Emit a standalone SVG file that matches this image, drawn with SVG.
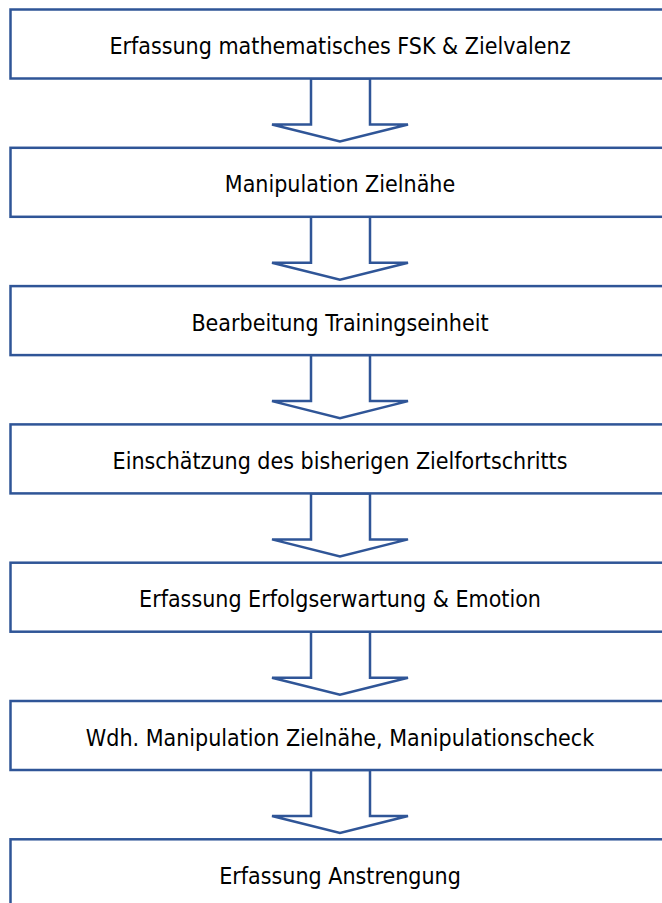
<svg xmlns="http://www.w3.org/2000/svg" width="662" height="903" viewBox="0 0 662 903">
  <style>
    .box { fill: #ffffff; stroke: #2F5597; stroke-width: 2.5; }
    .arrow { fill: #ffffff; stroke: #2F5597; stroke-width: 2.5; stroke-linejoin: miter; }
    .label { font-family: "DejaVu Sans Condensed", "DejaVu Sans", sans-serif; font-size: 23px; fill: #000000; text-anchor: middle; }
  </style>
  <defs>
    <!-- block arrow pointing down; origin at the bottom edge of the box above -->
    <path id="downArrow" class="arrow" d="M311,0 L370,0 L370,46 L408,46 L340,63 L272,46 L311,46 Z"/>
  </defs>
  <rect width="662" height="903" fill="#ffffff"/>

  <g id="connectors">
    <use href="#downArrow" transform="translate(0,78.5)"/>
    <use href="#downArrow" transform="translate(0,216.8)"/>
    <use href="#downArrow" transform="translate(0,355.1)"/>
    <use href="#downArrow" transform="translate(0,493.4)"/>
    <use href="#downArrow" transform="translate(0,631.7)"/>
    <use href="#downArrow" transform="translate(0,770)"/>
  </g>

  <g id="step1">
    <rect class="box" x="10.5" y="9.5" width="670" height="69"/>
    <text class="label" x="340" y="54">Erfassung mathematisches FSK &amp; Zielvalenz</text>
  </g>
  <g id="step2">
    <rect class="box" x="10.5" y="147.8" width="670" height="69"/>
    <text class="label" x="340" y="192.3">Manipulation Zielnähe</text>
  </g>
  <g id="step3">
    <rect class="box" x="10.5" y="286.1" width="670" height="69"/>
    <text class="label" x="340" y="330.6">Bearbeitung Trainingseinheit</text>
  </g>
  <g id="step4">
    <rect class="box" x="10.5" y="424.4" width="670" height="69"/>
    <text class="label" x="340" y="468.9">Einschätzung des bisherigen Zielfortschritts</text>
  </g>
  <g id="step5">
    <rect class="box" x="10.5" y="562.7" width="670" height="69"/>
    <text class="label" x="340" y="607.2">Erfassung Erfolgserwartung &amp; Emotion</text>
  </g>
  <g id="step6">
    <rect class="box" x="10.5" y="701" width="670" height="69"/>
    <text class="label" x="340" y="745.5">Wdh. Manipulation Zielnähe, Manipulationscheck</text>
  </g>
  <g id="step7">
    <rect class="box" x="10.5" y="839.3" width="670" height="69"/>
    <text class="label" x="340" y="883.8">Erfassung Anstrengung</text>
  </g>
</svg>
